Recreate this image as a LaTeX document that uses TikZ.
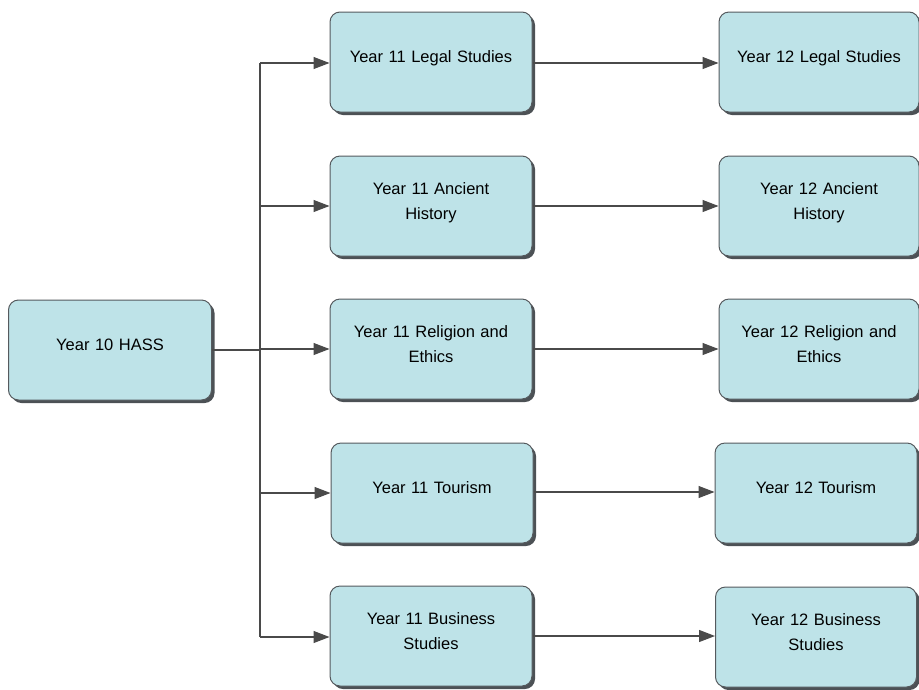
\documentclass[tikz,border=0pt]{standalone}
\usepackage{fontspec}
\setmainfont{Liberation Sans}
\usetikzlibrary{arrows.meta,shadows}
\definecolor{boxfill}{HTML}{BEE3E8}
\definecolor{boxline}{HTML}{555A5E}
\definecolor{conn}{HTML}{4A4A4A}
\newcommand{\up}{\\[-15pt]\mbox{}}
\tikzset{
  course/.style={draw=boxline, line width=1pt, fill=boxfill, rounded corners=10pt,
    minimum height=100pt, text width=185pt, align=center, inner sep=0pt,
    font=\fontsize{16.5}{25}\selectfont,
    drop shadow={shadow xshift=3pt, shadow yshift=-3pt, fill=boxline!90!black, opacity=1}},
  arr/.style={draw=conn, line width=1.1pt, -{Triangle[length=16pt,width=12pt]}},
  plain/.style={draw=conn, line width=1.1pt}
}
\begin{document}
\begin{tikzpicture}[x=1pt,y=-1pt]
\useasboundingbox (0,0) rectangle (919,689);
\node[course, minimum width=203pt] (y10) at (110,350) {Year 10 HASS\up};
\node[course, minimum width=202pt] (a1) at (431,62) {Year 11 Legal Studies\up};
\node[course, minimum width=202pt] (b1) at (431,206) {Year 11 Ancient\\History\up};
\node[course, minimum width=202pt] (c1) at (431,349) {Year 11 Religion and\\Ethics\up};
\node[course, minimum width=202pt] (d1) at (432,493) {Year 11 Tourism\up};
\node[course, minimum width=202pt] (e1) at (431,636) {Year 11 Business\\Studies\up};
\node[course, minimum width=200pt] (a2) at (819,62) {Year 12 Legal Studies\up};
\node[course, minimum width=200pt] (b2) at (819,206) {Year 12 Ancient\\History\up};
\node[course, minimum width=200pt] (c2) at (819,349) {Year 12 Religion and\\Ethics\up};
\node[course, minimum width=202pt] (d2) at (816,493) {Year 12 Tourism\up};
\node[course, minimum width=201pt] (e2) at (816,637) {Year 12 Business\\Studies\up};
\coordinate (jn) at (260,350);
\coordinate (top) at (260,63);
\coordinate (bot) at (260,637);
\draw[draw=conn, line width=1.8pt] (y10.east) -- (jn);
\draw[plain] (top) -- (bot);
\draw[arr] (top) -- (a1.west |- top);
\draw[arr] (260,206) -- (b1.west |- 0,206);
\draw[arr] (260,349) -- (c1.west |- 0,349);
\draw[arr] (260,493) -- (d1.west |- 0,493);
\draw[arr] (bot) -- (e1.west |- bot);
\draw[arr] (a1.east |- 0,63) -- (a2.west |- 0,63);
\draw[arr] (b1.east |- 0,206) -- (b2.west |- 0,206);
\draw[arr] (c1.east |- 0,349) -- (c2.west |- 0,349);
\draw[arr] (d1.east |- 0,492) -- (d2.west |- 0,492);
\draw[arr] (e1.east |- 0,636) -- (e2.west |- 0,636);
\end{tikzpicture}
\end{document}
